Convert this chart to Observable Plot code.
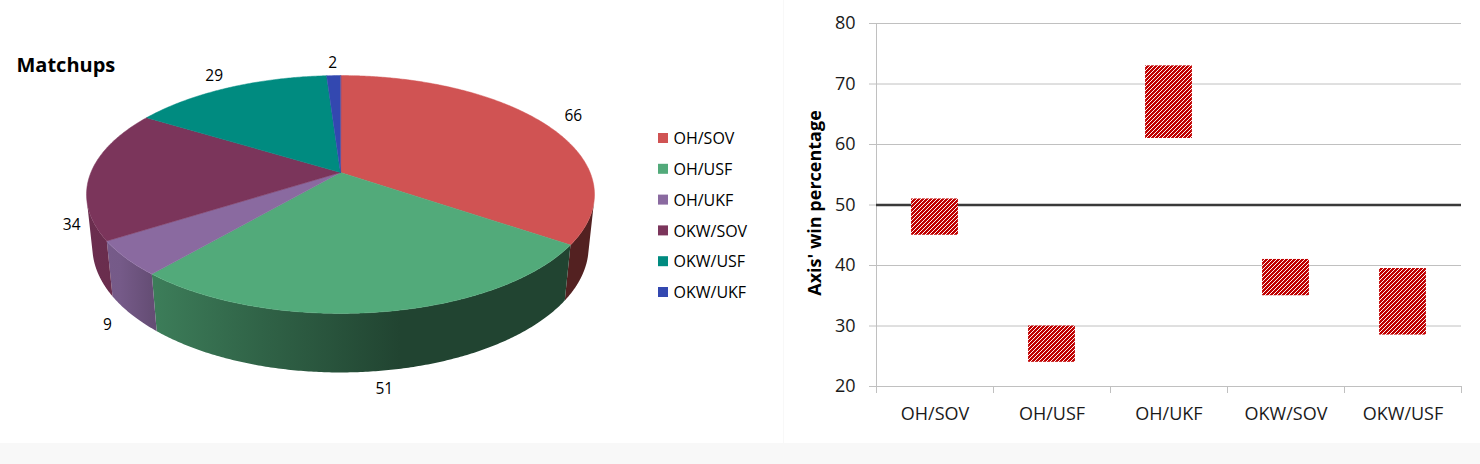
<!DOCTYPE html>
<html>
<head>
<meta charset="utf-8">
<script src="https://cdn.jsdelivr.net/npm/d3@7"></script>
<script src="https://cdn.jsdelivr.net/npm/@observablehq/plot@0.6"></script>
<style>
  body { margin: 0; background: #fff; }
  #wrap { position: relative; width: 1480px; height: 464px; background: #f8f8f8; overflow: hidden; }
  #pie { position: absolute; left: 0; top: 0; width: 783px; height: 443px; background: #fff; }
  #bar { position: absolute; left: 784px; top: 0; width: 696px; height: 443px; background: #fff; }
  svg { display: block; }
</style>
</head>
<body>
<div id="wrap"><div id="pie"></div><div id="bar"></div></div>
<script>
// ---------- data ----------
const matchups = ["OH/SOV", "OH/USF", "OH/UKF", "OKW/SOV", "OKW/USF", "OKW/UKF"];
const counts = [66, 51, 9, 34, 29, 2];
const sliceColors = ["#D05353", "#52AA7A", "#8A6AA0", "#7B355B", "#008B80", "#3348B0"];

const barCats = ["OH/SOV", "OH/USF", "OH/UKF", "OKW/SOV", "OKW/USF"];
const winLow = [45, 24, 61, 35, 28.5];
const winHigh = [51, 30, 73, 41, 39.5];
const yTicks = [20, 30, 40, 50, 60, 70, 80];

const pieTitle = "Matchups";
const yTitle = "Axis' win percentage";
const FONT = "'Open Sans', sans-serif";

// ---------- 3D pie geometry (perspective projection) ----------
const CX = 340, CY = 172, F = 1198.3, D = 4.801, ALPHA = 27.4 * Math.PI / 180, H = 0.2377;
function proj(theta, level, r = 1) {
  const X = r * Math.sin(theta), Z = r * Math.cos(theta), Y = -H * level;
  const yc = Y * Math.cos(ALPHA) + Z * Math.sin(ALPHA);
  const zc = D + Z * Math.cos(ALPHA) - Y * Math.sin(ALPHA);
  return {x: CX + F * X / zc, y: CY - F * yc / zc};
}
function arc(a0, a1, level) {
  const n = Math.max(2, Math.ceil(Math.abs(a1 - a0) / (0.5 * Math.PI / 180)));
  return d3.range(n + 1).map(k => proj(a0 + (a1 - a0) * k / n, level));
}
const total = d3.sum(counts);
const ends = d3.cumsum(counts);
const slices = matchups.map((name, i) => {
  const a0 = (ends[i] - counts[i]) / total * 2 * Math.PI;
  const a1 = ends[i] / total * 2 * Math.PI;
  return {name, i, value: counts[i], color: sliceColors[i], a0, a1};
});
const vis0 = Math.acos(-1 / (D * Math.cos(ALPHA)));
const vis1 = 2 * Math.PI - vis0;

const topPolys = slices.map(s => [{x: CX, y: CY}, ...arc(s.a0, s.a1, 0)]);
const sidePolys = slices.map(s => {
  const lo = Math.max(s.a0, vis0), hi = Math.min(s.a1, vis1);
  if (!(lo < hi)) return null;
  return [...arc(lo, hi, 0), ...arc(hi, lo, 1)];
});
const labelPts = slices.map(s => {
  const m = (s.a0 + s.a1) / 2;
  const p = Math.cos(m) >= 0 ? proj(m, 0, 1.16) : proj(m, 1, 1.1);
  return {...p, text: String(s.value)};
});
const legendRows = slices.map(s => ({name: s.name, color: s.color, y: 138 + s.i * 30.8}));

// side shading (darker to the right)
const shade = [[0, 0.87], [0.067, 0.85], [0.126, 0.74], [0.343, 0.58], [0.618, 0.40], [1, 0.40]];
function pieDefs() {
  const ns = "http://www.w3.org/2000/svg";
  const defs = document.createElementNS(ns, "defs");
  slices.forEach(s => {
    const g = document.createElementNS(ns, "linearGradient");
    g.setAttribute("id", "side" + s.i);
    g.setAttribute("gradientUnits", "userSpaceOnUse");
    g.setAttribute("x1", 86); g.setAttribute("x2", 594);
    g.setAttribute("y1", 0); g.setAttribute("y2", 0);
    const c = d3.rgb(s.color);
    shade.forEach(([o, f]) => {
      const st = document.createElementNS(ns, "stop");
      st.setAttribute("offset", o);
      st.setAttribute("stop-color", d3.rgb(c.r * f, c.g * f, c.b * f).formatHex());
      g.appendChild(st);
    });
    defs.appendChild(g);
  });
  return defs;
}

const pie = Plot.plot({
  width: 783, height: 443, margin: 0,
  x: {type: "identity", axis: null},
  y: {type: "identity", axis: null},
  style: {fontFamily: FONT, background: "white", color: "#000"},
  marks: [
    pieDefs,
    ...sidePolys.map((pts, i) => pts ? Plot.line(pts, {x: "x", y: "y", curve: "linear-closed", fill: `url(#side${i})`, stroke: "none"}) : null).filter(Boolean),
    ...topPolys.map((pts, i) => Plot.line(pts, {x: "x", y: "y", curve: "linear-closed", fill: sliceColors[i], stroke: sliceColors[i], strokeWidth: 0.5})),
    Plot.text(labelPts, {x: "x", y: "y", text: "text", fontSize: 15.5, fill: "#000"}),
    Plot.rect(legendRows, {x1: 658, x2: 668, y1: d => d.y - 5, y2: d => d.y + 5, fill: "color"}),
    Plot.text(legendRows, {x: 673, y: d => d.y + 0.5, text: "name", textAnchor: "start", fontSize: 16, fill: "#000"}),
    Plot.text([pieTitle], {x: 16, y: 65.5, textAnchor: "start", fontSize: 20, fontWeight: "bold", fill: "#000"})
  ]
});
document.getElementById("pie").appendChild(pie);

// ---------- floating bar chart ----------
const barData = barCats.map((cat, i) => ({cat, i, lo: winLow[i], hi: winHigh[i]}));
function hatchDefs() {
  const ns = "http://www.w3.org/2000/svg";
  const defs = document.createElementNS(ns, "defs");
  defs.innerHTML = `<pattern id="hatch" patternUnits="userSpaceOnUse" width="4" height="4">
    <rect width="4" height="4" fill="#c00000"></rect>
    <path d="M-1,1 l2,-2 M0,4 l4,-4 M3,5 l2,-2" stroke="#ffffff" stroke-width="0.95"></path>
  </pattern>`;
  return defs;
}
const bar = Plot.plot({
  width: 696, height: 443,
  marginLeft: 92, marginRight: 19, marginTop: 23, marginBottom: 57,
  x: {type: "linear", domain: [0, barCats.length], axis: null},
  y: {domain: [20, 80], axis: null},
  style: {fontFamily: FONT, background: "white", color: "#1a1a1a"},
  marks: [
    hatchDefs,
    Plot.ruleY(yTicks, {y: d => d, stroke: "#c0c0c0", strokeWidth: 1, insetLeft: -7}),
    Plot.ruleX(d3.range(barCats.length + 1), {x: d => d, y1: d => d === 0 ? 80 : 20, y2: 20, insetBottom: -7, stroke: "#c0c0c0", strokeWidth: 1}),
    Plot.ruleY([50], {y: d => d, stroke: "#3a3a3a", strokeWidth: 2.6}),
    Plot.rectY(barData, {x1: d => d.i + 0.3, x2: d => d.i + 0.7, y1: "lo", y2: "hi", fill: "url(#hatch)"}),
    Plot.text(yTicks, {x: 0, y: d => d, text: d => String(d), textAnchor: "end", dx: -21, fontSize: 18, fill: "#1a1a1a"}),
    Plot.text(barData, {x: d => d.i + 0.5, y: 20, text: "cat", dy: 28, fontSize: 18, fill: "#1a1a1a"}),
    Plot.text([yTitle], {x: 0, y: 50, dx: -61, dy: -2, rotate: -90, fontSize: 18, fontWeight: "bold", fill: "#000"})
  ]
});
document.getElementById("bar").appendChild(bar);
</script>
</body>
</html>
